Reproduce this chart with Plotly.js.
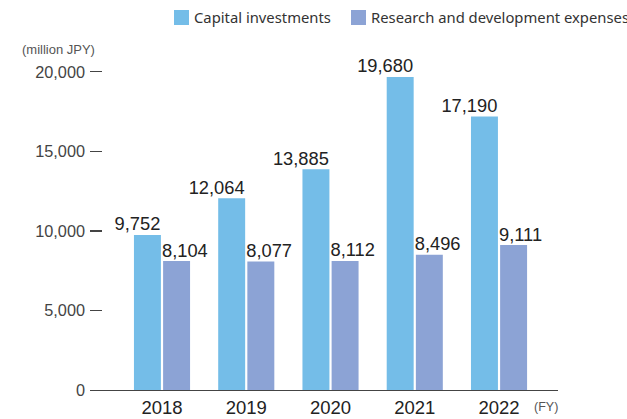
<!DOCTYPE html>
<html><head><meta charset="utf-8">
<script src="https://cdn.plot.ly/plotly-3.0.1.min.js"></script>
<style>html,body{margin:0;padding:0;background:#fff}#chart{width:627px;height:419px}</style>
</head><body><div id="chart"></div>
<script>
var years = ['2018','2019','2020','2021','2022'];
var capital = [9752, 12064, 13885, 19680, 17190];
var rnd = [8104, 8077, 8112, 8496, 9111];
var seriesNames = ['Capital investments', 'Research and development expenses'];
var seriesColors = ['#74BDE8', '#8CA3D5'];
var yTicks = [0, 5000, 10000, 15000, 20000];

var idx = years.map(function(_, i){ return i; });
var fmt = function(v){ return v.toLocaleString('en-US'); };
var numFont = {family: 'Liberation Sans, Arial, sans-serif', size: 18.3, color: '#222'};

var traces = [
  {type:'bar', name: seriesNames[0], x: idx, y: capital, width: 0.32, offset: -0.333,
   marker:{color: seriesColors[0]}, hoverinfo:'skip', showlegend:false},
  {type:'bar', name: seriesNames[1], x: idx, y: rnd, width: 0.32, offset: 0.013,
   marker:{color: seriesColors[1]}, hoverinfo:'skip', showlegend:false},
  {type:'scatter', mode:'text', x: idx.map(function(i){return i - 0.02;}), y: capital,
   text: capital.map(fmt), textposition:'top left', textfont: numFont,
   showlegend:false, hoverinfo:'skip', cliponaxis:false},
  {type:'scatter', mode:'text', x: idx, y: rnd,
   text: rnd.map(fmt), textposition:'top right', textfont: numFont,
   showlegend:false, hoverinfo:'skip', cliponaxis:false}
];

// legend (drawn as key squares + labels)
var legShapes = [
  {type:'rect', xref:'paper', yref:'paper', x0:0.1795, x1:0.2115, y0:1.1406, y1:1.1875,
   fillcolor: seriesColors[0], line:{width:0}},
  {type:'rect', xref:'paper', yref:'paper', x0:0.5577, x1:0.5897, y0:1.1406, y1:1.1875,
   fillcolor: seriesColors[1], line:{width:0}}
];
var legFont = {family:'Noto Sans, sans-serif', size:14.8, color:'#333'};

var layout = {
  width: 627, height: 419,
  margin: {l: 90, r: 69, t: 70, b: 29},
  paper_bgcolor: '#fff', plot_bgcolor: '#fff',
  showlegend: false,
  xaxis: {range: [-0.8546, 4.700], tickvals: idx, ticktext: years, showgrid:false, zeroline:false,
          showline:true, linecolor:'#444', linewidth:1.3, ticks:'',
          tickfont:{family:'Liberation Sans, Arial, sans-serif', size:18.5, color:'#222'}},
  yaxis: {range: [0, 20120], tickvals: yTicks,
          ticktext: yTicks.map(fmt),
          showgrid:false, zeroline:false, showline:false,
          ticks:'inside', ticklen:12, tickcolor:'#444', tickwidth:1.1, ticklabelstandoff:4,
          tickfont:{family:'Liberation Sans, Arial, sans-serif', size:16.3, color:'#444'}},
  shapes: legShapes,
  annotations: [
    {xref:'paper', yref:'paper', x: 0.2201, y: 1.1641, xanchor:'left', yanchor:'middle',
     text: seriesNames[0], showarrow:false, font: legFont, borderpad:0},
    {xref:'paper', yref:'paper', x: 0.5983, y: 1.1641, xanchor:'left', yanchor:'middle',
     text: seriesNames[1], showarrow:false, font: legFont, borderpad:0},
    {xref:'paper', yref:'paper', x: -0.1496, y: 1.0656, xanchor:'left', yanchor:'middle',
     text:'(million JPY)', showarrow:false,
     font:{family:'Liberation Sans, Arial, sans-serif', size:13, color:'#555'}},
    {xref:'paper', yref:'paper', x: 0.974, y: -0.0531, xanchor:'center', yanchor:'middle',
     text:'(FY)', showarrow:false,
     font:{family:'Liberation Sans, Arial, sans-serif', size:12.5, color:'#555'}}
  ]
};

Plotly.newPlot('chart', traces, layout, {displayModeBar:false, staticPlot:true});
</script></body></html>
